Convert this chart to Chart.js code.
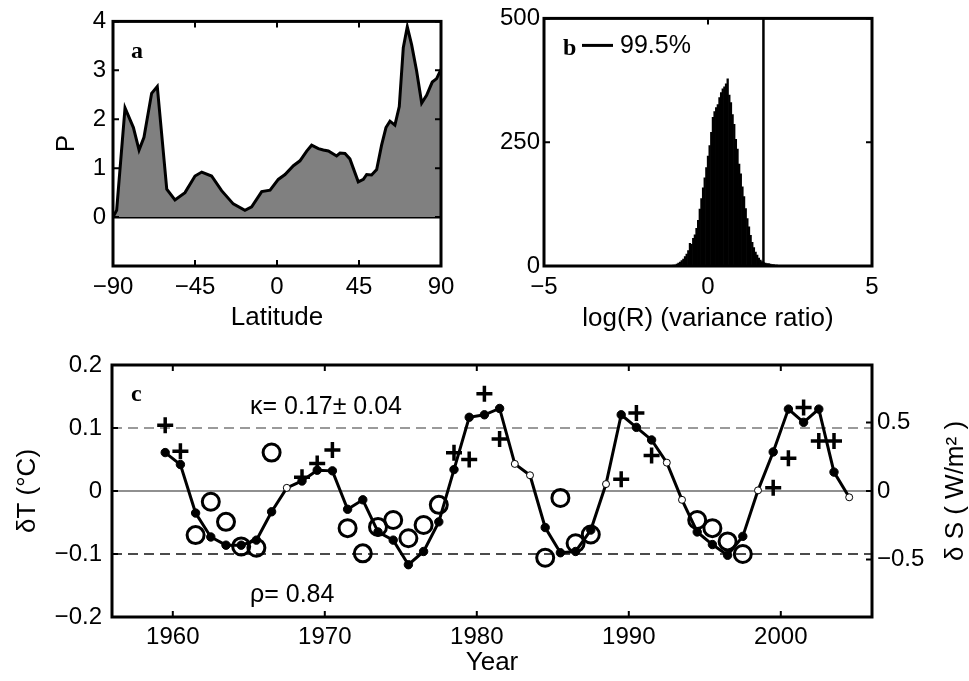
<!DOCTYPE html>
<html>
<head>
  <title>Panels a, b, c</title>
  <script src="https://cdn.jsdelivr.net/npm/chart.js"></script>
  <style>
    body { margin: 0; background: #fff; }
    #wrap { position: relative; width: 969px; height: 681px; overflow: hidden; background: #fff; }
    canvas { position: absolute; }
  </style>
</head>
<body>
<div id="wrap">
  <canvas id="chartA" style="left:0;top:0" width="480" height="340"></canvas>
  <canvas id="chartB" style="left:480px;top:0" width="489" height="340"></canvas>
  <canvas id="chartC" style="left:0;top:340px" width="969" height="341"></canvas>
</div>

<script>
  // ---- panel a : P against latitude
  var latA = [-90, -88, -83.4, -78.8, -75.7, -73, -68.8, -65.7, -60.5, -56, -50.5, -45, -41.3, -35.9, -30.4, -24,
              -17.6, -13.9, -8.4, -3.8, 0.7, 4.4, 9, 12.6, 16.3, 19, 22.7, 25.4, 28.2, 32.7, 34.6, 37.3, 40,
              44.6, 47.4, 49.2, 51.9, 54.7, 57.4, 59.8, 62, 64.7, 67.1, 69.3, 71.5, 73.9, 76.6, 79.4, 82.1,
              85.2, 87.6, 90];
  var pA = [0, 0.14, 2.23, 1.83, 1.37, 1.63, 2.53, 2.67, 0.57, 0.35, 0.5, 0.84, 0.92, 0.84, 0.54, 0.27,
            0.14, 0.21, 0.52, 0.55, 0.77, 0.87, 1.05, 1.15, 1.35, 1.47, 1.4, 1.37, 1.35, 1.25, 1.31, 1.3, 1.19,
            0.72, 0.77, 0.87, 0.86, 0.97, 1.47, 1.83, 1.96, 1.88, 2.26, 3.46, 3.89, 3.52, 2.99, 2.33, 2.49,
            2.76, 2.83, 3.02];
  var latTicks = [-90, -45, 0, 45, 90];
  var pTicks = [0, 1, 2, 3, 4];

  // ---- panel b : histogram of log(R)
  var binX = [-1.15, -1.10, -1.05, -1.00, -0.95, -0.90, -0.85, -0.80, -0.75, -0.70, -0.65, -0.60, -0.55, -0.50,
              -0.45, -0.40, -0.35, -0.30, -0.25, -0.20, -0.15, -0.10, -0.05, 0.00, 0.05, 0.10, 0.15, 0.20,
              0.25, 0.30, 0.35, 0.40, 0.45, 0.50, 0.55, 0.60, 0.65, 0.70, 0.75, 0.80, 0.85, 0.90, 0.95, 1.00,
              1.05, 1.10, 1.15, 1.20, 1.25, 1.30, 1.35, 1.40, 1.45, 1.50, 1.55, 1.60, 1.65, 1.70, 1.75, 1.80,
              1.85, 1.90, 1.95, 2.00, 2.05, 2.10, 2.15, 2.20, 2.25, 2.30];
  var binCount = [1, 1, 2, 2, 4, 6, 8, 11, 14, 19, 24, 31, 46, 44,
                  56, 63, 76, 92, 115, 136, 158, 178, 199, 222, 243, 270, 300, 312,
                  320, 326, 340, 350, 358, 362, 368, 378, 345, 330, 306, 286, 256, 236, 206, 186,
                  160, 140, 116, 96, 79, 62, 48, 37, 28, 22, 16, 12, 9, 7, 6, 5,
                  5, 4, 3, 3, 2, 2, 1, 1, 1, 1];
  var cutoff995 = 1.69;
  var logRTicks = [-5, 0, 5];
  var countTicks = [0, 250, 500];

  // ---- panel c : dT and dS against year
  var years = [1959, 1960, 1961, 1962, 1963, 1964, 1965, 1966, 1967, 1968, 1969, 1970, 1971, 1972, 1973, 1974,
               1975, 1976, 1977, 1978, 1979, 1980, 1981, 1982, 1983, 1984, 1985, 1986, 1987, 1988, 1989, 1990,
               1991, 1992, 1993, 1994, 1995, 1996, 1997, 1998, 1999, 2000, 2001, 2002, 2003, 2004];
  var modelT = [0.061, 0.042, -0.035, -0.073, -0.086, -0.086, -0.078, -0.033, 0.005, 0.016, 0.033, 0.032,
                -0.029, -0.014, -0.065, -0.078, -0.117, -0.096, -0.049, 0.034, 0.117, 0.121, 0.131, 0.043,
                0.025, -0.058, -0.098, -0.096, -0.062, 0.011, 0.121, 0.101, 0.081, 0.045, -0.014, -0.065,
                -0.085, -0.102, -0.072, 0.001, 0.062, 0.130, 0.109, 0.130, 0.030, -0.010];
  var openYears = [1967, 1982, 1983, 1988, 1992, 1993, 1998, 2004];
  var circleYears = [1961, 1962, 1963, 1964, 1965, 1966, 1971, 1972, 1973, 1974, 1975, 1976, 1977,
                     1984, 1985, 1986, 1987, 1994, 1995, 1996, 1997];
  var circleT = [-0.070, -0.017, -0.049, -0.088, -0.090, 0.061, -0.059, -0.099, -0.057, -0.046, -0.075,
                 -0.054, -0.022, -0.106, -0.011, -0.083, -0.069, -0.046, -0.059, -0.080, -0.100];
  var plusYears = [1959, 1960, 1968, 1969, 1970, 1978, 1979, 1980, 1981, 1989, 1990, 1991,
                   1999, 2000, 2001, 2002, 2003];
  var plusS = [0.48, 0.29, 0.10, 0.20, 0.30, 0.28, 0.23, 0.71, 0.38, 0.085, 0.57, 0.26,
               0.024, 0.24, 0.61, 0.365, 0.365];
  var yearTicks = [1960, 1970, 1980, 1990, 2000];
  var tTicks = [-0.2, -0.1, 0, 0.1, 0.2];
  var sTicks = [-0.5, 0, 0.5];

  Chart.defaults.font.family = '"Liberation Sans", Arial, Helvetica, sans-serif';
  Chart.defaults.font.size = 24;
  Chart.defaults.color = '#000';
  Chart.defaults.animation = false;
  Chart.defaults.plugins.legend.display = false;
  Chart.defaults.plugins.tooltip.enabled = false;

  var serif = 'bold 24px "Liberation Serif", "Times New Roman", serif';
  var sans = '25px "Liberation Sans", Arial, sans-serif';
  var titleFont = { size: 26 };

  function fmt(v) {
    return v < 0 ? '\u2212' + Math.abs(v) : String(v);
  }

  function setTicks(list) {
    return function (s) {
      s.ticks = list.map(function (v) { return { value: v }; });
    };
  }

  // box round the plot and small inward ticks, matlab style
  function drawFrame(chart, bothSides) {
    var ctx = chart.ctx, a = chart.chartArea, len = 6;
    ctx.save();
    ctx.strokeStyle = '#000';
    ctx.lineWidth = 2;
    ctx.beginPath();
    Object.keys(chart.scales).forEach(function (id) {
      var s = chart.scales[id];
      s.ticks.forEach(function (t) {
        var p = s.getPixelForValue(t.value);
        if (s.isHorizontal()) {
          ctx.moveTo(p, a.top); ctx.lineTo(p, a.top + len);
          ctx.moveTo(p, a.bottom); ctx.lineTo(p, a.bottom - len);
        } else {
          if (bothSides || s.position === 'left') { ctx.moveTo(a.left, p); ctx.lineTo(a.left + len, p); }
          if (bothSides || s.position === 'right') { ctx.moveTo(a.right, p); ctx.lineTo(a.right - len, p); }
        }
      });
    });
    ctx.stroke();
    ctx.lineWidth = 3;
    ctx.strokeRect(a.left, a.top, a.width, a.height);
    ctx.restore();
  }

  function hideGrid() {
    return { display: false, drawTicks: false };
  }

  // ---------------- a
  new Chart(document.getElementById('chartA'), {
    type: 'line',
    data: {
      datasets: [{
        data: latA.map(function (x, i) { return { x: x, y: pA[i] }; }),
        borderColor: '#000',
        borderWidth: 3,
        backgroundColor: '#808080',
        fill: 'origin',
        pointRadius: 0,
        tension: 0
      }, {
        data: [{ x: -90, y: 0 }, { x: 90, y: 0 }],
        borderColor: '#000',
        borderWidth: 3,
        pointRadius: 0
      }]
    },
    options: {
      responsive: false,
      layout: { padding: { top: 16, right: 39, left: 0, bottom: 0 } },
      scales: {
        x: {
          type: 'linear', min: -90, max: 90,
          grid: hideGrid(), border: { display: false },
          afterBuildTicks: setTicks(latTicks),
          afterFit: function (s) { s.height = 74; },
          ticks: { padding: 7, autoSkip: false, maxRotation: 0, callback: fmt },
          title: { display: true, text: 'Latitude', font: titleFont, padding: { top: 0, bottom: 7 } }
        },
        y: {
          min: -1, max: 4,
          grid: hideGrid(), border: { display: false },
          afterBuildTicks: setTicks(pTicks),
          afterFit: function (s) { s.width = 113; },
          ticks: { padding: 7, autoSkip: false, callback: fmt },
          title: { display: true, text: 'P', font: titleFont, padding: { top: 51, bottom: 0 } }
        }
      }
    },
    plugins: [{
      id: 'panelA',
      afterDraw: function (chart) {
        drawFrame(chart, true);
        var ctx = chart.ctx, a = chart.chartArea;
        ctx.save();
        ctx.font = serif;
        ctx.fillStyle = '#000';
        ctx.textBaseline = 'middle';
        ctx.fillText('a', a.left + 18, a.top + 30);
        ctx.restore();
      }
    }]
  });

  // ---------------- b
  new Chart(document.getElementById('chartB'), {
    type: 'bar',
    data: {
      datasets: [{
        type: 'bar',
        data: binX.map(function (x, i) { return { x: x, y: binCount[i] }; }),
        backgroundColor: '#000',
        borderWidth: 0,
        barPercentage: 1,
        categoryPercentage: 1,
        grouped: false
      }, {
        type: 'line',
        data: [{ x: cutoff995, y: 0 }, { x: cutoff995, y: 500 }],
        borderColor: '#000',
        borderWidth: 2.5,
        pointRadius: 0
      }]
    },
    options: {
      responsive: false,
      layout: { padding: { top: 16, right: 97, left: 0, bottom: 0 } },
      scales: {
        x: {
          type: 'linear', min: -5, max: 5, offset: false,
          grid: hideGrid(), border: { display: false },
          afterBuildTicks: setTicks(logRTicks),
          afterFit: function (s) { s.height = 74; },
          ticks: { padding: 7, autoSkip: false, maxRotation: 0, callback: fmt },
          title: { display: true, text: 'log(R) (variance ratio)', font: titleFont, padding: { top: 0, bottom: 6 } }
        },
        y: {
          min: 0, max: 500,
          grid: hideGrid(), border: { display: false },
          afterBuildTicks: setTicks(countTicks),
          afterFit: function (s) { s.width = 64; },
          ticks: { padding: 4, autoSkip: false, callback: fmt }
        }
      }
    },
    plugins: [{
      id: 'panelB',
      afterDraw: function (chart) {
        drawFrame(chart, true);
        var ctx = chart.ctx, a = chart.chartArea;
        ctx.save();
        ctx.fillStyle = '#000';
        ctx.strokeStyle = '#000';
        ctx.textBaseline = 'middle';
        ctx.font = serif;
        ctx.fillText('b', a.left + 19, a.top + 30);
        ctx.lineWidth = 3;
        ctx.beginPath();
        ctx.moveTo(a.left + 38, a.top + 27);
        ctx.lineTo(a.left + 69, a.top + 27);
        ctx.stroke();
        ctx.font = '25px "Liberation Sans", Arial, sans-serif';
        ctx.fillText('99.5%', a.left + 76, a.top + 28);
        ctx.restore();
      }
    }]
  });

  // ---------------- c
  function mid(y) { return y + 0.5; }

  new Chart(document.getElementById('chartC'), {
    type: 'line',
    data: {
      datasets: [{
        // +/-0.1 guide lines and zero line
        data: [{ x: 1956, y: 0.1 }, { x: 2006, y: 0.1 }],
        borderColor: '#7a7a7a', borderWidth: 1.5, borderDash: [10, 6], pointRadius: 0, order: 10
      }, {
        data: [{ x: 1956, y: -0.1 }, { x: 2006, y: -0.1 }],
        borderColor: '#111', borderWidth: 1.5, borderDash: [10, 6], pointRadius: 0, order: 10
      }, {
        data: [{ x: 1956, y: 0 }, { x: 2006, y: 0 }],
        borderColor: '#222', borderWidth: 1.2, pointRadius: 0, order: 10
      }, {
        // observed dT, open circles
        data: circleYears.map(function (y, i) { return { x: mid(y), y: circleT[i] }; }),
        showLine: false,
        pointStyle: 'circle',
        pointRadius: 8.5,
        pointBorderWidth: 3,
        pointBorderColor: '#000',
        pointBackgroundColor: 'rgba(0,0,0,0)',
        order: 3
      }, {
        // model dT
        data: years.map(function (y, i) { return { x: mid(y), y: modelT[i] }; }),
        borderColor: '#000',
        borderWidth: 3,
        tension: 0,
        pointStyle: 'circle',
        pointBorderColor: '#000',
        pointBorderWidth: 1,
        pointRadius: function (c) { return openYears.indexOf(years[c.dataIndex]) >= 0 ? 3.5 : 4.2; },
        pointBackgroundColor: function (c) { return openYears.indexOf(years[c.dataIndex]) >= 0 ? '#fff' : '#000'; },
        order: 2
      }, {
        // dS, plus marks on the right axis
        yAxisID: 'y2',
        data: plusYears.map(function (y, i) { return { x: mid(y), y: plusS[i] }; }),
        showLine: false,
        pointStyle: 'cross',
        pointRadius: 8,
        pointBorderWidth: 3.5,
        pointBorderColor: '#000',
        order: 1
      }]
    },
    options: {
      responsive: false,
      layout: { padding: { top: 25, right: 0, left: 0, bottom: 0 } },
      scales: {
        x: {
          type: 'linear', min: 1956, max: 2006,
          grid: hideGrid(), border: { display: false },
          afterBuildTicks: setTicks(yearTicks),
          afterFit: function (s) { s.height = 64; },
          ticks: { padding: 6, autoSkip: false, maxRotation: 0, callback: function (v) { return String(v); } },
          title: { display: true, text: 'Year', font: titleFont, padding: { top: 0, bottom: 3 } }
        },
        y: {
          position: 'left', min: -0.2, max: 0.2,
          grid: hideGrid(), border: { display: false },
          afterBuildTicks: setTicks(tTicks),
          afterFit: function (s) { s.width = 112; },
          ticks: { padding: 10, autoSkip: false, callback: fmt },
          title: { display: true, text: 'δT (°C)', font: titleFont, padding: { top: 12, bottom: 0 } }
        },
        y2: {
          position: 'right', min: -0.92, max: 0.92,
          grid: hideGrid(), border: { display: false },
          afterBuildTicks: setTicks(sTicks),
          afterFit: function (s) { s.width = 97; },
          ticks: { padding: 5, autoSkip: false, callback: fmt }
        }
      }
    },
    plugins: [{
      id: 'panelC',
      afterDraw: function (chart) {
        drawFrame(chart, false);
        var ctx = chart.ctx, a = chart.chartArea;
        ctx.save();
        ctx.fillStyle = '#000';
        ctx.textBaseline = 'middle';
        ctx.font = serif;
        ctx.fillText('c', a.left + 19, a.top + 30);
        ctx.font = sans;
        ctx.fillText('κ= 0.17± 0.04', a.left + 138, a.top + 42);
        ctx.fillText('ρ= 0.84', a.left + 138, a.bottom - 22);
        ctx.font = '26px "Liberation Sans", Arial, sans-serif';
        ctx.translate(a.right + 84, (a.top + a.bottom) / 2);
        ctx.rotate(-Math.PI / 2);
        ctx.textAlign = 'center';
        ctx.fillText('δ S ( W/m² )', 0, 0);
        ctx.restore();
      }
    }]
  });
</script>
</body>
</html>
